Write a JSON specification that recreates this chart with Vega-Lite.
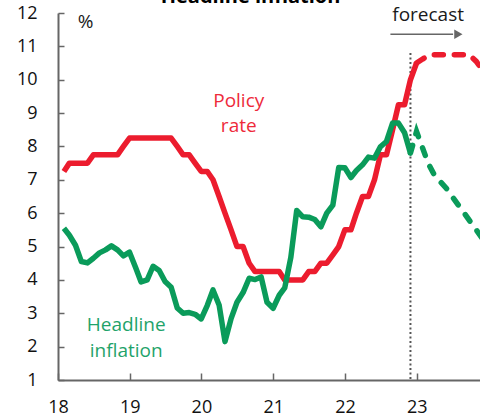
{
  "$schema": "https://vega.github.io/schema/vega-lite/v6.json",
  "width": 422,
  "height": 367,
  "autosize": {"type": "none"},
  "padding": {"left": 58, "top": 13, "right": 0, "bottom": 37},
  "config": {"view": {"stroke": null}, "font": "Open Sans", "text": {"font": "Open Sans"}},
  "datasets": {
    "series": [
      {"d":"2018-01-31","s":"P","v":7.25},{"d":"2018-02-28","s":"P","v":7.5},{"d":"2018-03-31","s":"P","v":7.5},{"d":"2018-04-30","s":"P","v":7.5},{"d":"2018-05-31","s":"P","v":7.5},{"d":"2018-06-30","s":"P","v":7.75},{"d":"2018-07-31","s":"P","v":7.75},{"d":"2018-08-31","s":"P","v":7.75},{"d":"2018-09-30","s":"P","v":7.75},{"d":"2018-10-31","s":"P","v":7.75},{"d":"2018-11-30","s":"P","v":8.0},{"d":"2018-12-31","s":"P","v":8.25},
      {"d":"2019-01-31","s":"P","v":8.25},{"d":"2019-02-28","s":"P","v":8.25},{"d":"2019-03-31","s":"P","v":8.25},{"d":"2019-04-30","s":"P","v":8.25},{"d":"2019-05-31","s":"P","v":8.25},{"d":"2019-06-30","s":"P","v":8.25},{"d":"2019-07-31","s":"P","v":8.25},{"d":"2019-08-31","s":"P","v":8.0},{"d":"2019-09-30","s":"P","v":7.75},{"d":"2019-10-31","s":"P","v":7.75},{"d":"2019-11-30","s":"P","v":7.5},{"d":"2019-12-31","s":"P","v":7.25},
      {"d":"2020-01-31","s":"P","v":7.25},{"d":"2020-02-29","s":"P","v":7.0},{"d":"2020-03-31","s":"P","v":6.5},{"d":"2020-04-30","s":"P","v":6.0},{"d":"2020-05-31","s":"P","v":5.5},{"d":"2020-06-30","s":"P","v":5.0},{"d":"2020-07-31","s":"P","v":5.0},{"d":"2020-08-31","s":"P","v":4.5},{"d":"2020-09-30","s":"P","v":4.25},{"d":"2020-10-31","s":"P","v":4.25},{"d":"2020-11-30","s":"P","v":4.25},{"d":"2020-12-31","s":"P","v":4.25},
      {"d":"2021-01-31","s":"P","v":4.25},{"d":"2021-02-28","s":"P","v":4.0},{"d":"2021-03-31","s":"P","v":4.0},{"d":"2021-04-30","s":"P","v":4.0},{"d":"2021-05-31","s":"P","v":4.0},{"d":"2021-06-30","s":"P","v":4.25},{"d":"2021-07-31","s":"P","v":4.25},{"d":"2021-08-31","s":"P","v":4.5},{"d":"2021-09-30","s":"P","v":4.5},{"d":"2021-10-31","s":"P","v":4.75},{"d":"2021-11-30","s":"P","v":5.0},{"d":"2021-12-31","s":"P","v":5.5},
      {"d":"2022-01-31","s":"P","v":5.5},{"d":"2022-02-28","s":"P","v":6.0},{"d":"2022-03-31","s":"P","v":6.5},{"d":"2022-04-30","s":"P","v":6.5},{"d":"2022-05-31","s":"P","v":7.0},{"d":"2022-06-30","s":"P","v":7.75},{"d":"2022-07-31","s":"P","v":7.75},{"d":"2022-08-31","s":"P","v":8.5},{"d":"2022-09-30","s":"P","v":9.25},{"d":"2022-10-31","s":"P","v":9.25},{"d":"2022-11-30","s":"P","v":10.0},{"d":"2022-12-31","s":"P","v":10.5},
      {"d":"2022-12-31","s":"PF","v":10.5},{"d":"2023-01-31","s":"PF","v":10.62},{"d":"2023-02-28","s":"PF","v":10.72},{"d":"2023-03-31","s":"PF","v":10.75},{"d":"2023-04-30","s":"PF","v":10.75},{"d":"2023-05-31","s":"PF","v":10.75},{"d":"2023-06-30","s":"PF","v":10.75},{"d":"2023-07-31","s":"PF","v":10.75},{"d":"2023-08-31","s":"PF","v":10.75},{"d":"2023-09-30","s":"PF","v":10.72},{"d":"2023-10-31","s":"PF","v":10.55},{"d":"2023-11-30","s":"PF","v":10.3},
      {"d":"2018-01-31","s":"I","v":5.55},{"d":"2018-02-28","s":"I","v":5.34},{"d":"2018-03-31","s":"I","v":5.04},{"d":"2018-04-30","s":"I","v":4.55},{"d":"2018-05-31","s":"I","v":4.51},{"d":"2018-06-30","s":"I","v":4.65},{"d":"2018-07-31","s":"I","v":4.81},{"d":"2018-08-31","s":"I","v":4.9},{"d":"2018-09-30","s":"I","v":5.02},{"d":"2018-10-31","s":"I","v":4.9},{"d":"2018-11-30","s":"I","v":4.72},{"d":"2018-12-31","s":"I","v":4.83},
      {"d":"2019-01-31","s":"I","v":4.37},{"d":"2019-02-28","s":"I","v":3.94},{"d":"2019-03-31","s":"I","v":4.0},{"d":"2019-04-30","s":"I","v":4.41},{"d":"2019-05-31","s":"I","v":4.28},{"d":"2019-06-30","s":"I","v":3.95},{"d":"2019-07-31","s":"I","v":3.78},{"d":"2019-08-31","s":"I","v":3.16},{"d":"2019-09-30","s":"I","v":3.0},{"d":"2019-10-31","s":"I","v":3.02},{"d":"2019-11-30","s":"I","v":2.97},{"d":"2019-12-31","s":"I","v":2.83},
      {"d":"2020-01-31","s":"I","v":3.24},{"d":"2020-02-29","s":"I","v":3.7},{"d":"2020-03-31","s":"I","v":3.25},{"d":"2020-04-30","s":"I","v":2.15},{"d":"2020-05-31","s":"I","v":2.84},{"d":"2020-06-30","s":"I","v":3.33},{"d":"2020-07-31","s":"I","v":3.62},{"d":"2020-08-31","s":"I","v":4.05},{"d":"2020-09-30","s":"I","v":4.01},{"d":"2020-10-31","s":"I","v":4.09},{"d":"2020-11-30","s":"I","v":3.33},{"d":"2020-12-31","s":"I","v":3.15},
      {"d":"2021-01-31","s":"I","v":3.54},{"d":"2021-02-28","s":"I","v":3.76},{"d":"2021-03-31","s":"I","v":4.67},{"d":"2021-04-30","s":"I","v":6.08},{"d":"2021-05-31","s":"I","v":5.89},{"d":"2021-06-30","s":"I","v":5.88},{"d":"2021-07-31","s":"I","v":5.81},{"d":"2021-08-31","s":"I","v":5.59},{"d":"2021-09-30","s":"I","v":6.0},{"d":"2021-10-31","s":"I","v":6.24},{"d":"2021-11-30","s":"I","v":7.37},{"d":"2021-12-31","s":"I","v":7.36},
      {"d":"2022-01-31","s":"I","v":7.07},{"d":"2022-02-28","s":"I","v":7.28},{"d":"2022-03-31","s":"I","v":7.45},{"d":"2022-04-30","s":"I","v":7.68},{"d":"2022-05-31","s":"I","v":7.65},{"d":"2022-06-30","s":"I","v":7.99},{"d":"2022-07-31","s":"I","v":8.15},{"d":"2022-08-31","s":"I","v":8.7},{"d":"2022-09-30","s":"I","v":8.7},{"d":"2022-10-31","s":"I","v":8.41},{"d":"2022-11-30","s":"I","v":7.8},
      {"d":"2022-11-30","s":"IF","v":7.8},{"d":"2022-12-31","s":"IF","v":8.45},{"d":"2023-01-31","s":"IF","v":7.95},{"d":"2023-02-28","s":"IF","v":7.5},{"d":"2023-03-31","s":"IF","v":7.15},{"d":"2023-04-30","s":"IF","v":6.95},{"d":"2023-05-31","s":"IF","v":6.75},{"d":"2023-06-30","s":"IF","v":6.5},{"d":"2023-07-31","s":"IF","v":6.25},{"d":"2023-08-31","s":"IF","v":6.0},{"d":"2023-09-30","s":"IF","v":5.75},{"d":"2023-10-31","s":"IF","v":5.5},{"d":"2023-11-30","s":"IF","v":5.25}
    ],
    "notes": [
      {"k":"vline","d":"2022-11-30","v":10.8,"v2":1},
      {"k":"arrow","d":"2022-08-20","d2":"2023-07-05","v":11.36},
      {"k":"head","d":"2023-08-01","v":11.36},
      {"k":"title","t":"Headline inflation","d":"2020-09-07","v":12.3},
      {"k":"plain","t":"%","d":"2018-05-21","v":11.55},
      {"k":"plain","t":"forecast","d":"2023-02-28","v":11.76},
      {"k":"policy","t":"Policy","d":"2020-07-09","v":9.18},
      {"k":"policy","t":"rate","d":"2020-07-09","v":8.43},
      {"k":"infl","t":"Headline","d":"2018-12-14","v":2.47},
      {"k":"infl","t":"inflation","d":"2018-12-14","v":1.69}
    ]
  },
  "encoding": {
    "x": {
      "field": "d", "type": "temporal",
      "scale": {"type": "utc", "domain": [{"year": 2018, "month": 1, "date": 1, "utc": true}, {"year": 2023, "month": 11, "date": 19, "utc": true}]},
      "axis": {
        "title": null, "grid": false, "labelExpr": "utcFormat(datum.value, '%y')",
        "values": [{"year": 2018, "month": 1, "date": 1, "utc": true}, {"year": 2019, "month": 1, "date": 1, "utc": true}, {"year": 2020, "month": 1, "date": 1, "utc": true}, {"year": 2021, "month": 1, "date": 1, "utc": true}, {"year": 2022, "month": 1, "date": 1, "utc": true}, {"year": 2023, "month": 1, "date": 1, "utc": true}],
        "domainColor": "#666666", "domainWidth": 2, "tickColor": "#666666", "tickWidth": 1.5, "tickSize": -7,
        "labelPadding": 25, "labelFontSize": 18, "labelFont": "Open Sans", "labelColor": "#111111", "labelFlush": false, "labelOverlap": false
      }
    },
    "y": {
      "field": "v", "type": "quantitative",
      "scale": {"domain": [1, 12], "nice": false, "zero": false},
      "axis": {
        "title": null, "grid": false, "values": [1,2,3,4,5,6,7,8,9,10,11,12],
        "domainColor": "#666666", "domainWidth": 2, "tickColor": "#666666", "tickWidth": 1.5, "tickSize": -6,
        "labelPadding": 27, "labelFontSize": 18, "labelFont": "Open Sans", "labelColor": "#111111", "labelFlush": false, "labelOverlap": false
      }
    }
  },
  "layer": [
    {"data": {"name": "notes"}, "transform": [{"filter": "datum.k === 'vline'"}],
     "mark": {"type": "rule", "color": "#555555", "strokeWidth": 2, "strokeDash": [2, 2.5]},
     "encoding": {"y2": {"field": "v2"}}},
    {"data": {"name": "series"}, "transform": [{"filter": "datum.s === 'P'"}],
     "mark": {"type": "line", "color": "#ec1c2e", "strokeWidth": 5.5, "strokeJoin": "round", "clip": true}},
    {"data": {"name": "series"}, "transform": [{"filter": "datum.s === 'PF'"}],
     "mark": {"type": "line", "color": "#ec1c2e", "strokeWidth": 5.5, "strokeCap": "round", "strokeDash": [9, 11], "clip": true}},
    {"data": {"name": "series"}, "transform": [{"filter": "datum.s === 'I'"}],
     "mark": {"type": "line", "color": "#0a9b5a", "strokeWidth": 5.5, "strokeJoin": "round", "clip": true}},
    {"data": {"name": "series"}, "transform": [{"filter": "datum.s === 'IF'"}],
     "mark": {"type": "line", "color": "#0a9b5a", "strokeWidth": 5.5, "strokeCap": "round", "strokeDash": [8, 12], "clip": true}},
    {"data": {"name": "notes"}, "transform": [{"filter": "datum.k === 'arrow'"}],
     "mark": {"type": "rule", "color": "#666666", "strokeWidth": 1.5},
     "encoding": {"x2": {"field": "d2"}}},
    {"data": {"name": "notes"}, "transform": [{"filter": "datum.k === 'head'"}],
     "mark": {"type": "point", "shape": "triangle-right", "filled": true, "color": "#666666", "size": 90, "opacity": 1}},
    {"data": {"name": "notes"}, "transform": [{"filter": "datum.k === 'title'"}],
     "mark": {"type": "text", "font": "Open Sans", "fontSize": 20, "fontWeight": "bold", "color": "#000000", "align": "center", "baseline": "alphabetic"},
     "encoding": {"text": {"field": "t"}}},
    {"data": {"name": "notes"}, "transform": [{"filter": "datum.k === 'plain'"}],
     "mark": {"type": "text", "font": "Open Sans", "fontSize": 19, "color": "#1a1a1a", "align": "center", "baseline": "alphabetic"},
     "encoding": {"text": {"field": "t"}}},
    {"data": {"name": "notes"}, "transform": [{"filter": "datum.k === 'policy'"}],
     "mark": {"type": "text", "font": "Open Sans", "fontSize": 19, "color": "#ee2a3a", "align": "center", "baseline": "alphabetic"},
     "encoding": {"text": {"field": "t"}}},
    {"data": {"name": "notes"}, "transform": [{"filter": "datum.k === 'infl'"}],
     "mark": {"type": "text", "font": "Open Sans", "fontSize": 19, "color": "#1fa36a", "align": "center", "baseline": "alphabetic"},
     "encoding": {"text": {"field": "t"}}}
  ]
}
